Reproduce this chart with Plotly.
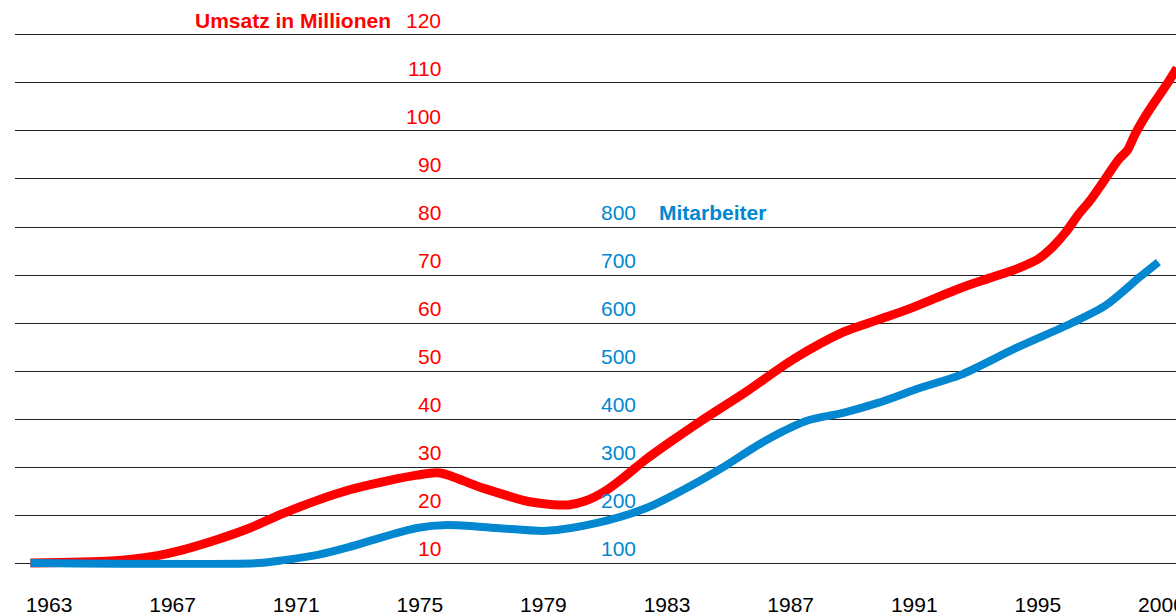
import plotly.graph_objects as go

# ---- data ----
umsatz_years = [1962.4, 1965.0, 1966.3, 1967.3, 1968.4, 1969.5, 1970.6, 1971.7, 1972.7, 1973.8,
                1974.9, 1975.65, 1976.95, 1978.6, 1979.8, 1980.35, 1981.0, 1981.65, 1982.3, 1983.1,
                1984.1, 1985.5, 1987.1, 1988.7, 1989.8, 1990.9, 1992.5, 1993.45, 1994.4, 1995.05,
                1995.5, 1995.9, 1996.3, 1996.7, 1997.2, 1997.6, 1997.9, 1998.15, 1998.55, 1999.2,
                1999.5]
umsatz_values = [10, 10.4, 11.3, 12.7, 14.8, 17.3, 20.4, 23.1, 25.2, 26.9,
                 28.3, 28.75, 25.8, 22.7, 22.1, 22.9, 25.0, 28.1, 31.5, 35.2,
                 39.6, 45.4, 52.5, 58.1, 60.6, 63.1, 67.3, 69.4, 71.5, 73.5,
                 76.0, 78.9, 82.5, 85.6, 90.2, 93.96, 96.0, 99.4, 103.8, 110.0,
                 113.1]

mitarbeiter_years = [1962.4, 1969.8, 1970.6, 1971.7, 1972.7, 1973.8, 1974.9, 1975.9, 1977.5, 1979.1,
                     1980.7, 1982.35, 1983.8, 1984.9, 1986.0, 1987.1, 1987.6, 1988.7, 1989.8, 1991.2,
                     1992.5, 1994.3, 1996.1, 1997.2, 1998.3, 1998.9]
mitarbeiter_values = [100, 100, 106, 117, 133, 154, 173, 179, 173, 167,
                      183, 215, 262, 303, 348, 385, 398, 413, 433, 465,
                      492, 548, 600, 637, 696, 727]

umsatz_ticks = [10, 20, 30, 40, 50, 60, 70, 80, 90, 100, 110, 120]
mitarbeiter_ticks = [100, 200, 300, 400, 500, 600, 700, 800]
year_tick_pos = [1963, 1967, 1971, 1975, 1979, 1983, 1987, 1991, 1995, 1999]
year_tick_text = ["1963", "1967", "1971", "1975", "1979", "1983", "1987", "1991", "1995", "2000"]

RED = "#FF0000"
BLUE = "#0287D0"
FONT = "Liberation Sans, Arial, sans-serif"

fig = go.Figure()
fig.add_trace(go.Scatter(x=umsatz_years, y=umsatz_values, mode="lines",
                         line=dict(color=RED, width=9, shape="spline", smoothing=0.8),
                         yaxis="y", showlegend=False, hoverinfo="skip"))
fig.add_trace(go.Scatter(x=mitarbeiter_years, y=mitarbeiter_values, mode="lines",
                         line=dict(color=BLUE, width=8, shape="spline", smoothing=0.8),
                         yaxis="y2", showlegend=False, hoverinfo="skip"))

annotations = []
for v in umsatz_ticks:
    annotations.append(dict(x=0.3686, xref="paper", y=v + 3.0, yref="y", text=str(v),
                            showarrow=False, xanchor="right", yanchor="middle",
                            font=dict(family=FONT, size=21, color=RED)))
for v in mitarbeiter_ticks:
    annotations.append(dict(x=0.5366, xref="paper", y=v + 30, yref="y2", text=str(v),
                            showarrow=False, xanchor="right", yanchor="middle",
                            font=dict(family=FONT, size=21, color=BLUE)))
annotations.append(dict(x=0.3256, xref="paper", y=umsatz_ticks[-1] + 3.0, yref="y",
                        text="<b>Umsatz in Millionen</b>", showarrow=False,
                        xanchor="right", yanchor="middle",
                        font=dict(family=FONT, size=21, color=RED)))
annotations.append(dict(x=0.5530, xref="paper", y=mitarbeiter_ticks[-1] + 30, yref="y2",
                        text="<b>Mitarbeiter</b>", showarrow=False,
                        xanchor="left", yanchor="middle",
                        font=dict(family=FONT, size=21, color=BLUE)))

fig.update_layout(
    width=1176, height=616,
    margin=dict(l=15, r=0, t=0, b=26),
    paper_bgcolor="white", plot_bgcolor="white",
    xaxis=dict(range=[1961.9, 1999.47], tickvals=year_tick_pos, ticktext=year_tick_text,
               showgrid=False, zeroline=False, showline=False, ticks="",
               ticklabeloverflow="allow", automargin=False,
               tickfont=dict(family=FONT, size=21, color="black")),
    yaxis=dict(range=[4.375, 127.29], tickvals=umsatz_ticks, showticklabels=False,
               showgrid=True, gridcolor="#222222", gridwidth=1.3, zeroline=False, ticks="",
               automargin=False),
    yaxis2=dict(range=[43.75, 1272.92], overlaying="y", showgrid=False, zeroline=False,
                showticklabels=False, ticks="", automargin=False),
    annotations=annotations,
)

fig.write_html("out.html", config={"displayModeBar": False},
               post_script="document.body.style.margin='0';document.body.style.overflow='hidden';")
